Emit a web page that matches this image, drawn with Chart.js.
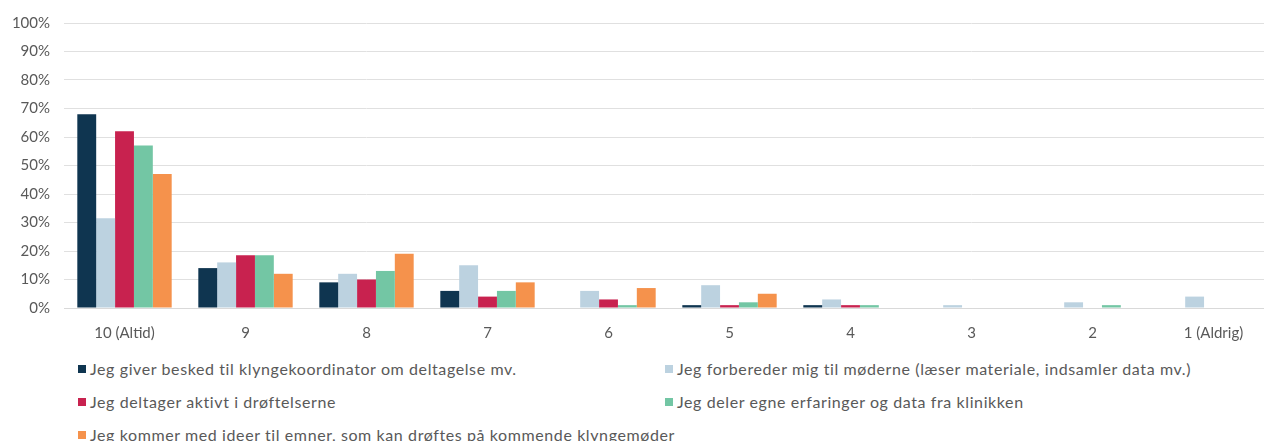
<!DOCTYPE html>
<html>
<head>
<meta charset="utf-8">
<script src="https://cdn.jsdelivr.net/npm/chart.js@4"></script>
<style>
  html, body { margin: 0; padding: 0; background: #fff; overflow: hidden; width: 1264px; height: 441px; }
  #wrap { position: absolute; left: 0; top: 0; width: 1274px; height: 350px; }
  #legend { position: absolute; left: 0; top: 359px; width: 1264px; font-family: Lato, "Open Sans", sans-serif; font-size: 16px; letter-spacing: 0.6px; color: #595959; }
  .item { position: absolute; white-space: nowrap; display: flex; align-items: center; }
  .box { width: 8px; height: 8px; margin-right: 4px; }
</style>
</head>
<body>
<div id="wrap"><canvas id="chart"></canvas></div>
<div id="legend"></div>
<script>
// categories
const categories = ["10 (Altid)", "9", "8", "7", "6", "5", "4", "3", "2", "1 (Aldrig)"];
// series (percent)
const giverBesked = [68, 14, 9, 6, 0, 1, 1, 0, 0, 0];
const forbereder = [31.5, 16, 12, 15, 6, 8, 3, 1, 2, 4];
const deltager = [62, 18.5, 10, 4, 3, 1, 1, 0, 0, 0];
const delerErfaringer = [57, 18.5, 13, 6, 1, 2, 1, 0, 1, 0];
const kommerMedIdeer = [47, 12, 19, 9, 7, 5, 0, 0, 0, 0];

const seriesNames = [
  "Jeg giver besked til klyngekoordinator om deltagelse mv.",
  "Jeg forbereder mig til møderne (læser materiale, indsamler data mv.)",
  "Jeg deltager aktivt i drøftelserne",
  "Jeg deler egne erfaringer og data fra klinikken",
  "Jeg kommer med ideer til emner, som kan drøftes på kommende klyngemøder",
];
const seriesColors = ["#0f3550", "#bcd2e0", "#c8224f", "#73c6a4", "#f5924c"];
const yTicks = [0, 10, 20, 30, 40, 50, 60, 70, 80, 90, 100];

const allData = [giverBesked, forbereder, deltager, delerErfaringer, kommerMedIdeer];
const datasets = allData.map((d, i) => ({
  label: seriesNames[i],
  data: d,
  backgroundColor: seriesColors[i],
  borderWidth: 0,
  barPercentage: 1,
  categoryPercentage: 0.78,
}));

const ctx = document.getElementById("chart").getContext("2d");
const chart = new Chart(ctx, {
  type: "bar",
  data: { labels: categories, datasets: datasets },
  options: {
    responsive: true,
    maintainAspectRatio: false,
    animation: false,
    layout: { padding: { top: 10, left: 0, right: 0, bottom: 0 } },
    plugins: { legend: { display: false }, tooltip: { enabled: false } },
    scales: {
      x: {
        grid: { display: false },
        border: { color: "#d9d9d9" },
        ticks: { color: "#595959", font: { family: "Lato", size: 15 }, padding: 8, maxRotation: 0 },
      },
      y: {
        min: 0,
        max: 100,
        afterBuildTicks: (axis) => { axis.ticks = yTicks.map((v) => ({ value: v })); },
        grid: { color: "#e0e0e0", lineWidth: 1, drawTicks: false },
        border: { display: false },
        afterFit: (axis) => { axis.width = 64; },
        ticks: {
          color: "#595959",
          font: { family: "Lato", size: 15 },
          padding: 14,
          callback: (v) => v + "%",
        },
      },
    },
  },
});

// legend in two columns
const legend = document.getElementById("legend");
const cols = [78, 665];
seriesNames.forEach((name, i) => {
  const el = document.createElement("div");
  el.className = "item";
  el.style.left = cols[i % 2] + "px";
  el.style.top = Math.floor(i / 2) * 33 + "px";
  el.innerHTML = `<span class="box" style="background:${seriesColors[i]}"></span>${name}`;
  legend.appendChild(el);
});
</script>
</body>
</html>
